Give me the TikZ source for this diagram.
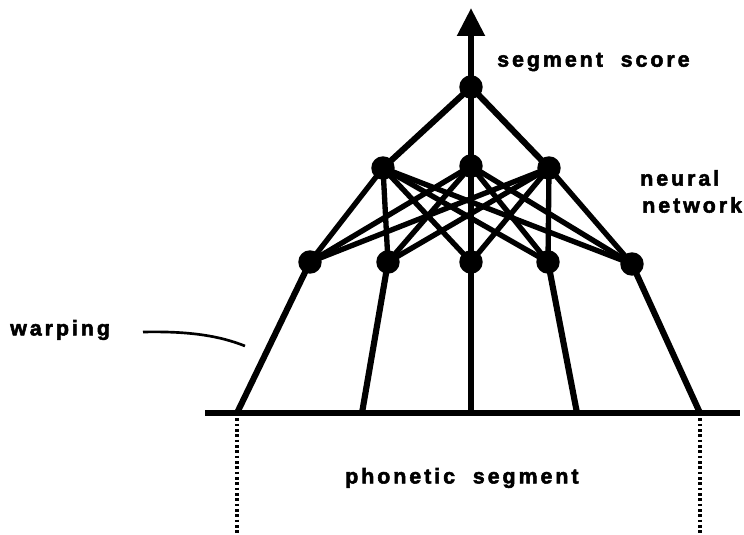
\documentclass[tikz,border=0pt]{standalone}
\usepackage{fontspec}
\setmainfont{Liberation Sans}[LetterSpace=14,FakeBold=2.5]
\usetikzlibrary{arrows.meta}
\begin{document}
\begin{tikzpicture}[x=0.75pt,y=-0.75pt,
  unit/.style={circle,fill=black,inner sep=0pt,minimum size=15pt},
  link/.style={line width=4.6pt},
  lbl/.style={font=\bfseries\fontsize{16}{18}\selectfont,inner sep=0pt},
  dotline/.style={line width=2.6pt,dash pattern=on 2pt off 2pt}]
\useasboundingbox (0,0) rectangle (744,535);
\node[unit] (o) at (471,87) {};
\node[unit] (h1) at (383,168) {};
\node[unit] (h2) at (471,166) {};
\node[unit] (h3) at (549,168) {};
\node[unit] (i1) at (310,262) {};
\node[unit] (i2) at (388,262) {};
\node[unit] (i3) at (471,262) {};
\node[unit] (i4) at (548,262) {};
\node[unit] (i5) at (632,264) {};
\coordinate (b1) at (237,413);
\coordinate (b2) at (362,413);
\coordinate (b3) at (471,413);
\coordinate (b4) at (577,413);
\coordinate (b5) at (700,413);
\coordinate (l0) at (205,413);
\coordinate (l1) at (740,413);
\coordinate (top) at (471,8);
\coordinate (d1) at (237,535);
\coordinate (d5) at (700,535);
\coordinate (w0) at (143,332);
\coordinate (w1) at (245,346);
% output arrow
\draw[link,-{Triangle[width=20pt,length=21pt]}] (o.center) -- (top);
% top connections
\foreach \h in {h1,h2,h3} \draw[link] (o.center) -- (\h.center);
% hidden-input
\foreach \h in {h1,h2,h3}
  \foreach \i in {i1,i2,i3,i4,i5}
    \draw[line width=4pt] (\h.center) -- (\i.center);
% input-bottom
\draw[link] (i1.center) -- (b1);
\draw[link] (i2.center) -- (b2);
\draw[link] (i3.center) -- (b3);
\draw[link] (i4.center) -- (b4);
\draw[link] (i5.center) -- (b5);
\draw[link] (l0) -- (l1);
\draw[dotline] ([yshift=-4pt]b1) -- (d1);
\draw[dotline] ([yshift=-4pt]b5) -- (d5);
\draw[line width=2pt] (w0) .. controls (190,331) and (220,336) .. (w1);
% redraw units on top
\foreach \n in {o,h1,h2,h3,i1,i2,i3,i4,i5} \fill (\n) circle (8.8pt);
% labels
\node[lbl,anchor=west] (t1) at (497,62) {segment\ \ score};
\node[lbl,anchor=west] (t2) at (640,178) {neural};
\node[lbl,anchor=west] (t3) at (642,205) {network};
\node[lbl,anchor=west] (t4) at (10,330) {warping};
\node[lbl,anchor=west] (t5) at (345,478) {phonetic\ \ segment};
\end{tikzpicture}
\end{document}
